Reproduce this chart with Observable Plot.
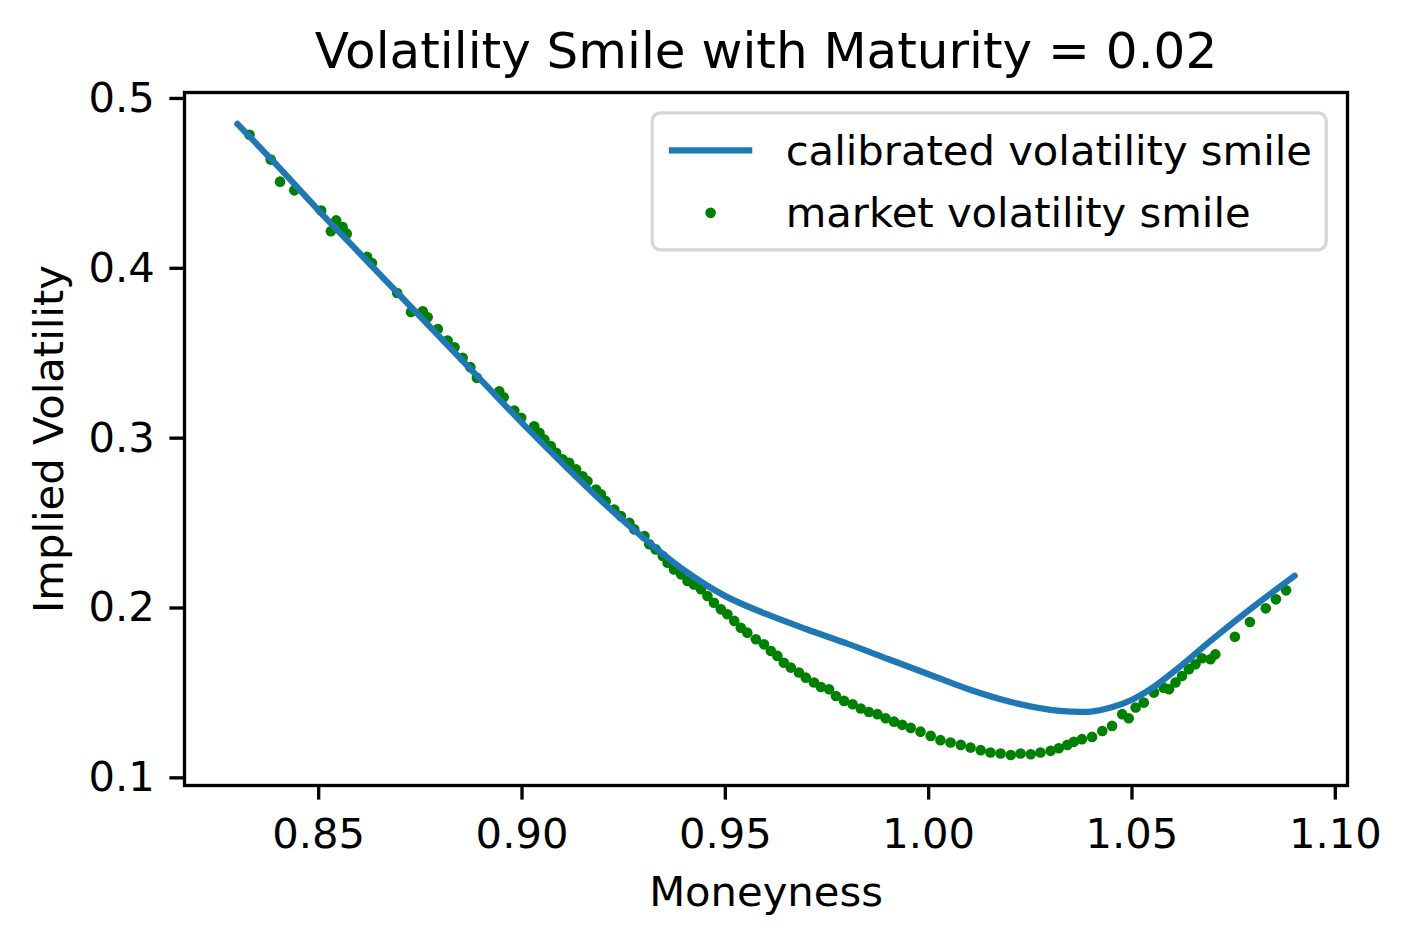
<!DOCTYPE html>
<html>
<head>
<meta charset="utf-8">
<script src="https://cdn.jsdelivr.net/npm/d3@7"></script>
<script src="https://cdn.jsdelivr.net/npm/@observablehq/plot@0.6"></script>
<style>
html, body { margin: 0; padding: 0; background: #fff; }
svg { display: block; }
</style>
</head>
<body>
<div id="chart"></div>
<script>
// ---- Data ----
const titleText = "Volatility Smile with Maturity = 0.02";
const xLabel = "Moneyness";
const yLabel = "Implied Volatility";
const legendLabels = ["calibrated volatility smile", "market volatility smile"];

const xTicks = [0.85, 0.90, 0.95, 1.00, 1.05, 1.10];
const yTicks = [0.1, 0.2, 0.3, 0.4, 0.5];

// calibrated volatility smile (blue line)
const calibMoneyness = [0.83, 0.84, 0.85, 0.86, 0.87, 0.88, 0.89, 0.90, 0.91, 0.92, 0.93, 0.94, 0.95, 0.96, 0.97, 0.98, 0.99, 1.00, 1.01, 1.02, 1.03, 1.035, 1.04, 1.045, 1.05, 1.055, 1.06, 1.07, 1.08, 1.09];
const calibVol       = [0.485, 0.460, 0.434, 0.409, 0.384, 0.359, 0.334, 0.309, 0.285, 0.262, 0.241, 0.222, 0.207, 0.1965, 0.1875, 0.179, 0.170, 0.161, 0.152, 0.1448, 0.140, 0.139, 0.139, 0.1415, 0.146, 0.153, 0.162, 0.182, 0.201, 0.219];

// market volatility smile (green dots)
const marketMoneyness = [
  0.8330, 0.8382, 0.8405, 0.8440, 0.8506, 0.8530, 0.8543, 0.8559, 0.8569, 0.8619,
  0.8631, 0.8693, 0.8727, 0.8756, 0.8768, 0.8793, 0.8817, 0.8834, 0.8854, 0.8873,
  0.8889, 0.8944, 0.8955, 0.8981, 0.8998, 0.9030, 0.9043, 0.9055, 0.9071, 0.9084,
  0.9100, 0.9116, 0.9133, 0.9149, 0.9161, 0.9182, 0.9194, 0.9206, 0.9227, 0.9243,
  0.9264, 0.9276, 0.9301, 0.9313, 0.9329, 0.9346, 0.9358, 0.9374, 0.9391, 0.9407,
  0.9423, 0.9440, 0.9456, 0.9472, 0.9489, 0.9505, 0.9522, 0.9538, 0.9554, 0.9575,
  0.9595, 0.9612, 0.9628, 0.9644, 0.9661, 0.9681, 0.9698, 0.9718, 0.9735, 0.9755,
  0.9772, 0.9792, 0.9813, 0.9833, 0.9853, 0.9874, 0.9894, 0.9915, 0.9935, 0.9956,
  0.9980, 1.0005, 1.0029, 1.0054, 1.0079, 1.0103, 1.0128, 1.0152, 1.0177, 1.0202,
  1.0226, 1.0251, 1.0275, 1.0300, 1.0320, 1.0341, 1.0357, 1.0377, 1.0402, 1.0427,
  1.0451, 1.0476, 1.0492, 1.0509, 1.0529, 1.0554, 1.0578, 1.0591, 1.0607, 1.0623,
  1.0640, 1.0656, 1.0672, 1.0693, 1.0705, 1.0753, 1.0790, 1.0829, 1.0854, 1.0879
];
const marketVol = [
  0.4786, 0.4640, 0.4510, 0.4459, 0.4340, 0.4218, 0.4282, 0.4243, 0.4204, 0.4067,
  0.4031, 0.3855, 0.3743, 0.3747, 0.3712, 0.3643, 0.3575, 0.3535, 0.3473, 0.3418,
  0.3355, 0.3276, 0.3241, 0.3163, 0.3120, 0.3070, 0.3031, 0.2992, 0.2953, 0.2914,
  0.2875, 0.2855, 0.2816, 0.2776, 0.2747, 0.2698, 0.2669, 0.2629, 0.2580, 0.2541,
  0.2502, 0.2463, 0.2424, 0.2375, 0.2345, 0.2306, 0.2267, 0.2227, 0.2198, 0.2159,
  0.2139, 0.2110, 0.2071, 0.2031, 0.1992, 0.1963, 0.1924, 0.1884, 0.1855, 0.1816,
  0.1786, 0.1747, 0.1718, 0.1678, 0.1649, 0.1620, 0.1590, 0.1561, 0.1535, 0.1522,
  0.1482, 0.1453, 0.1433, 0.1408, 0.1388, 0.1375, 0.1351, 0.1331, 0.1312, 0.1294,
  0.1272, 0.1247, 0.1222, 0.1208, 0.1194, 0.1178, 0.1163, 0.1149, 0.1143, 0.1135,
  0.1143, 0.1139, 0.1149, 0.1159, 0.1174, 0.1194, 0.1212, 0.1228, 0.1241, 0.1276,
  0.1306, 0.1375, 0.1351, 0.1414, 0.1443, 0.1502, 0.1531, 0.1522, 0.1561, 0.1600,
  0.1640, 0.1669, 0.1704, 0.1698, 0.1727, 0.1831, 0.1918, 0.1998, 0.2051, 0.2104
];

// ---- Tables built from the arrays ----
const calib = calibMoneyness.map((m, i) => ({moneyness: m, vol: calibVol[i]}));
const market = marketMoneyness.map((m, i) => ({moneyness: m, vol: marketVol[i]}));

const FONT = "DejaVu Sans, Liberation Sans, sans-serif";
const lineColor = "#1f77b4";
const dotColor = "#008000";
const fs = 41.7;   // 10pt @ 300 dpi
const spine = 3.33;
const dotR = 5.3;

const W = 1410, H = 945;
const mL = 184, mR = 63, mT = 92, mB = 160;

const chart = Plot.plot({
  width: W,
  height: H,
  marginLeft: mL,
  marginRight: mR,
  marginTop: mT,
  marginBottom: mB,
  style: {fontFamily: FONT, fontSize: fs + "px", background: "white", color: "black"},
  x: {domain: [0.817, 1.103]},
  y: {domain: [0.0955, 0.5035]},
  marks: [
    Plot.dot(market, {x: "moneyness", y: "vol", r: dotR, fill: dotColor, stroke: "none"}),
    Plot.line(calib, {x: "moneyness", y: "vol", stroke: lineColor, strokeWidth: 6.25, curve: "catmull-rom"}),
    Plot.frame({stroke: "black", strokeWidth: spine}),
    Plot.axisX(xTicks, {tickSize: 14.6, strokeWidth: spine, tickPadding: 18.4, tickFormat: d3.format(".2f"), fontSize: fs, label: null}),
    Plot.axisY(yTicks, {tickSize: 14.6, strokeWidth: spine, tickPadding: 15, tickFormat: d3.format(".1f"), fontSize: fs, label: null}),
    Plot.text([titleText], {text: d => d, frameAnchor: "top", dy: -25, textAnchor: "middle", lineAnchor: "bottom", fontSize: 50, fill: "black"}),
    Plot.text([xLabel], {text: d => d, frameAnchor: "bottom", dy: 120, textAnchor: "middle", lineAnchor: "bottom", fontSize: fs, fill: "black"}),
    Plot.text([yLabel], {text: d => d, frameAnchor: "left", dx: -122, rotate: -90, textAnchor: "middle", lineAnchor: "bottom", fontSize: fs, fill: "black"})
  ]
});

document.getElementById("chart").appendChild(chart);

// ---- Legend (upper right, matplotlib style) ----
const svg = d3.select(chart);
const pad = 20.8;              // borderaxespad
const boxRight = W - mR - pad;
const boxTop = mT + pad;
const boxW = 674, boxH = 137;
const boxLeft = boxRight - boxW;
const lg = svg.append("g")
  .attr("font-family", FONT)
  .attr("font-size", fs)
  .attr("text-anchor", "start");
lg.append("rect")
  .attr("x", boxLeft).attr("y", boxTop)
  .attr("width", boxW).attr("height", boxH)
  .attr("rx", 8.3).attr("ry", 8.3)
  .attr("fill", "white").attr("fill-opacity", 0.8)
  .attr("stroke", "#cccccc").attr("stroke-opacity", 0.8)
  .attr("stroke-width", spine);
const hx0 = boxLeft + 16.7, hx1 = hx0 + 83.4, tx = hx1 + 33.4;
const row1 = boxTop + 16.7 + fs / 2, row2 = row1 + fs + 20.8;
lg.append("line")
  .attr("x1", hx0).attr("x2", hx1).attr("y1", row1).attr("y2", row1)
  .attr("stroke", lineColor).attr("stroke-width", 6.25);
lg.append("text").attr("x", tx).attr("y", row1 + 14.4).attr("fill", "black").attr("text-anchor", "start").text(legendLabels[0]);
lg.append("circle").attr("cx", (hx0 + hx1) / 2).attr("cy", row2).attr("r", dotR).attr("fill", dotColor);
lg.append("text").attr("x", tx).attr("y", row2 + 14.4).attr("fill", "black").attr("text-anchor", "start").text(legendLabels[1]);
</script>
</body>
</html>
